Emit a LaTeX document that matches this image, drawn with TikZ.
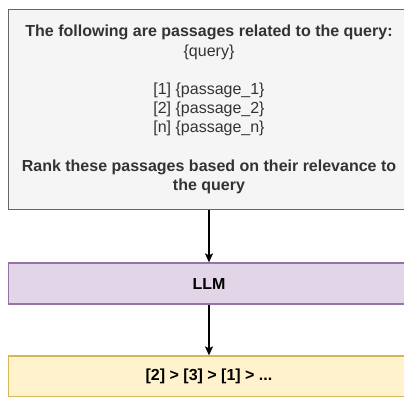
\documentclass[tikz,border=0pt]{standalone}
\usepackage{fontspec}
\setmainfont{Liberation Sans}
\usetikzlibrary{arrows.meta,positioning}
\definecolor{promptFill}{RGB}{245,245,245}
\definecolor{promptLine}{RGB}{102,102,102}
\definecolor{promptText}{RGB}{51,51,51}
\definecolor{llmFill}{RGB}{225,213,231}
\definecolor{llmLine}{RGB}{150,115,166}
\definecolor{rankFill}{RGB}{255,242,204}
\definecolor{rankLine}{RGB}{214,182,86}

\begin{document}
\begin{tikzpicture}[x=1pt,y=-1pt,
  box/.style={draw, line width=1.3pt, minimum width=401pt, align=center, inner sep=0pt,
    font=\fontsize{16}{19.2}\selectfont},
  arr/.style={line width=1.3pt, -{Stealth[length=9pt,width=8pt,inset=2pt]}}]
\useasboundingbox (0,0) rectangle (404,396);

\node[box, fill=promptFill, draw=promptLine, text=promptText, minimum height=200pt] (prompt) at (209,109.5)
  {{\bfseries The following are passages related to the query:}\\
   \{query\}\\[19.2pt]
   {}[1] \{passage\_1\}\\
   {}[2] \{passage\_2\}\\
   {}[n] \{passage\_n\}\\[19.2pt]
   {\bfseries Rank these passages based on their relevance to}\\
   {\bfseries the query}};
\node[box, fill=llmFill, draw=llmLine, minimum height=41pt] (llm) at (209,283.5) {\bfseries LLM};
\node[box, fill=rankFill, draw=rankLine, minimum height=41pt] (rank) at (209,376.5) {\bfseries [2] > [3] > [1] > ...};

\draw[arr] (prompt) -- (llm);
\draw[arr] (llm) -- (rank);
\end{tikzpicture}
\end{document}
